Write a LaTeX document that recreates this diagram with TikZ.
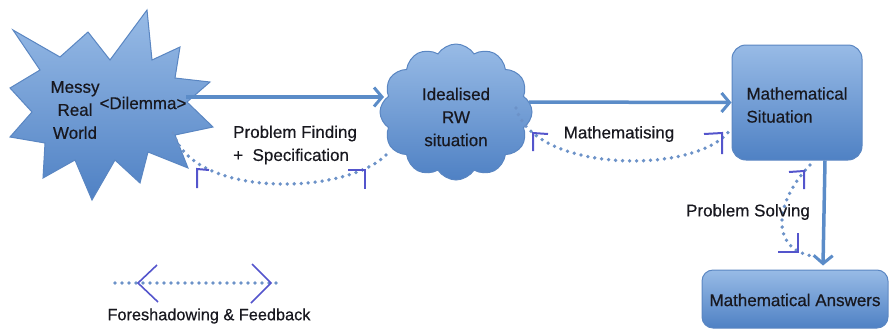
\documentclass[tikz,border=0pt]{standalone}
\usepackage{fontspec}
\setmainfont{Liberation Sans}
\newfontfamily\lblfont{Liberation Sans}[FakeBold=0.5]
\usetikzlibrary{shapes.symbols,arrows.meta}
\definecolor{fillTop}{HTML}{98BBE6}
\definecolor{fillBot}{HTML}{4F81C4}
\definecolor{edgeC}{HTML}{5A86C2}
\definecolor{flowC}{HTML}{5B8CC8}
\definecolor{dotC}{HTML}{6C92C8}
\definecolor{brkC}{HTML}{5455CC}
\definecolor{txtC}{HTML}{18181F}
\tikzset{
  shaded/.style={draw=edgeC, line width=1pt, top color=fillTop, bottom color=fillBot},
  boxsty/.style={shaded, rounded corners=14pt},
  flow/.style={draw=flowC, line width=3.5pt, -{Straight Barb[length=8pt,width=19pt,line width=3pt]}},
  fb/.style={draw=dotC, line width=3.8pt, line cap=round, dash pattern=on 0pt off 7pt},
  brk/.style={draw=brkC, line width=2pt},
  chev/.style={draw=brkC, line width=1.6pt},
  lbl/.style={text=txtC, inner sep=0pt, font=\lblfont\fontsize{17}{23}\selectfont},
}
\begin{document}
\begin{tikzpicture}[x=1pt,y=-1pt]
\useasboundingbox (0,0) rectangle (889,330);

% starburst (Messy Real World)
\path[shaded] (13,30) -- (60,57) -- (88,32) -- (110,60) -- (147,10) -- (152,60) -- (180,47)
  -- (175,78) -- (210,82) -- (187,102) -- (213,127) -- (175,135) -- (188,168) -- (148,152)
  -- (140,183) -- (115,160) -- (92,200) -- (75,160) -- (43,178) -- (45,143) -- (10,137)
  -- (32,112) -- (10,88) -- (40,70) -- cycle;
\node[lbl, align=center] (mrw) at (75,110) {Messy\\Real\\World};
\node[lbl] (dil) at (143,103) {<Dilemma>};
\coordinate (starR) at (186,97);
\coordinate (pfA) at (173,133);

% cloud
\node[cloud, cloud puffs=12, cloud puff arc=115, cloud ignores aspect, shaded,
      minimum width=152pt, minimum height=136pt, inner sep=0pt] (cl) at (456,112) {};
\node[lbl, align=center] (cltxt) at (456,117) {Idealised\\RW\\situation};
\coordinate (cloudL) at (384,97);
\coordinate (cloudR) at (529,102);
\coordinate (pfB) at (388,153);
\coordinate (mA) at (516,108);

% mathematical situation
\node[boxsty, minimum width=130pt, minimum height=115pt, inner sep=0pt] (ms) at (797,102.5) {};
\node[lbl, align=left] (mstxt) at (797,105) {Mathematical\\Situation};

% mathematical answers
\node[boxsty, rounded corners=11pt, minimum width=186pt, minimum height=58pt, inner sep=0pt] (ans) at (795,299) {};
\node[lbl] (anstxt) at (795,300) {Mathematical Answers};

% main arrows
\draw[flow] (starR) -- (cloudL);
\draw[flow] (cloudR) -- (ms.west);
\draw[flow] ([xshift=28pt]ms.south) -- ([xshift=28pt,yshift=4pt]ans.north);

% feedback curves
\coordinate (mB) at (732,127);
\coordinate (psA) at (810,165);
\coordinate (psB) at (813,256);
\draw[fb] (pfA) .. controls (195,200) and (350,195) .. (pfB);
\draw[fb] (mA) .. controls (535,175) and (705,175) .. (mB);
\draw[fb] (psA) .. controls (772,205) and (772,250) .. (psB);

% bracket marks
\draw[brk] (209,170) -- (197,169) -- (197,188);
\draw[brk] (348,170) -- (365,170) -- (365,189);
\draw[brk] (548,134) -- (533,133) -- (533,151);
\draw[brk] (704,134) -- (722,133) -- (722,154);
\draw[brk] (789,172) -- (804,171) -- (804,189);
\draw[brk] (798,233) -- (798,252) -- (778,252);

% labels
\node[lbl, align=left, anchor=west] (pftxt) at (233,145) {Problem Finding\\+\ \ Specification};
\node[lbl] (mtxt) at (619,134) {Mathematising};
\node[lbl] (pstxt) at (748,212) {Problem Solving};

% legend
\coordinate (lgA) at (115,283);
\coordinate (lgB) at (283,283);
\draw[fb] (lgA) -- (lgB);
\draw[chev] (157,265) -- (138,283) -- (158,302);
\draw[chev] (252,264) -- (271,283) -- (251,303);
\node[lbl, font=\lblfont\fontsize{16.3}{20}\selectfont] (lgtxt) at (209,316) {Foreshadowing \& Feedback};
\end{tikzpicture}
\end{document}
